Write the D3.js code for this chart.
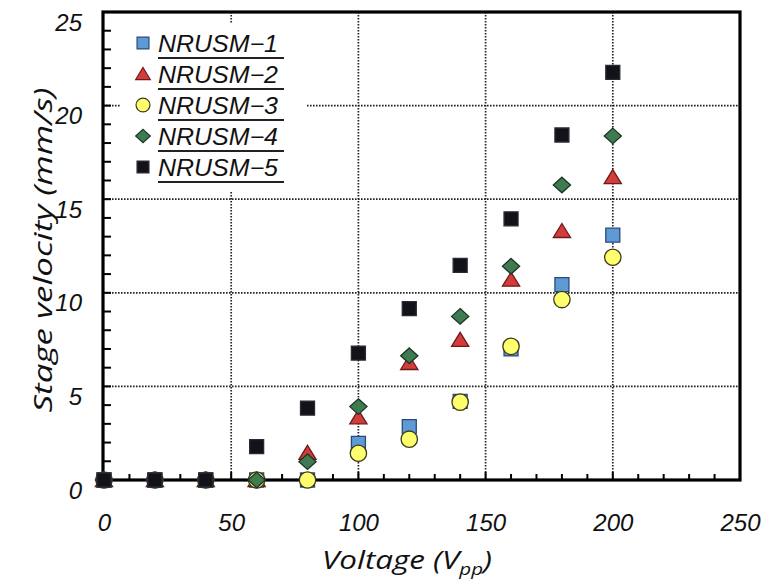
<!DOCTYPE html>
<html><head><meta charset="utf-8">
<script src="https://cdn.jsdelivr.net/npm/d3@7"></script>
<style>
html,body{margin:0;padding:0;background:#fff;}
svg{display:block;}
</style></head>
<body>
<svg id="chart" width="766" height="581"></svg>
<script>
const voltages = [0, 20, 40, 60, 80, 100, 120, 140, 160, 180, 200];
const seriesNames = ["NRUSM\u22121", "NRUSM\u22122", "NRUSM\u22123", "NRUSM\u22124", "NRUSM\u22125"];
const nrusm1 = [0, 0, 0, 0, 0, 1.96, 2.85, 4.2, 7.0, 10.44, 13.08];
const nrusm2 = [0, 0, 0, 0, 1.45, 3.35, 6.25, 7.49, 10.7, 13.3, 16.18];
const nrusm3 = [0, 0, 0, 0, 0, 1.43, 2.18, 4.16, 7.14, 9.64, 11.9];
const nrusm4 = [0, 0, 0, 0, 0.98, 3.92, 6.64, 8.74, 11.42, 15.76, 18.38];
const nrusm5 = [0, 0, 0, 1.78, 3.84, 6.78, 9.15, 11.47, 13.95, 18.43, 21.77];
const xTicks = [0, 50, 100, 150, 200, 250];
const yTicks = [0, 5, 10, 15, 20, 25];

const seriesValues = [nrusm1, nrusm2, nrusm3, nrusm4, nrusm5];
const shapes = ["square", "triangle", "circle", "diamond", "square"];
const fills = ["#5d9ad6", "#d43c3c", "#ffff6e", "#3f7b52", "#111318"];
const strokes = ["#2c4a78", "#6e1a1a", "#3a3a1a", "#1c3524", "#2a2a35"];

const svg = d3.select("#chart");
const L = 103, R = 740, T = 12, B = 480;
const x = d3.scaleLinear().domain([0, 250]).range([L + 1, R]);
const y = d3.scaleLinear().domain([0, 25]).range([B, T]);

const tickFont = "'Liberation Sans', Arial, sans-serif";
const titleFont = "'Open Sans', 'Noto Sans', sans-serif";

// grid lines
const grid = svg.append("g");
grid.selectAll("line.gx").data(xTicks.filter(d => d > 0 && d < 250)).join("line")
  .attr("x1", d => x(d)).attr("x2", d => x(d)).attr("y1", T).attr("y2", B)
  .attr("stroke", "#222").attr("stroke-width", 1.7).attr("stroke-dasharray", "1.6,1.4");
grid.selectAll("line.gy").data(yTicks.filter(d => d > 0 && d < 25)).join("line")
  .attr("x1", L).attr("x2", R).attr("y1", d => y(d)).attr("y2", d => y(d))
  .attr("stroke", "#222").attr("stroke-width", 1.7).attr("stroke-dasharray", "1.6,1.4");

// minor ticks (inward)
const yMinor = d3.range(1, 25);
svg.append("g").selectAll("line").data(yMinor).join("line")
  .attr("x1", L).attr("x2", L + 8).attr("y1", d => y(d)).attr("y2", d => y(d))
  .attr("stroke", "#000").attr("stroke-width", 2);
const xMinor = d3.range(10, 250, 10);
svg.append("g").selectAll("line").data(xMinor).join("line")
  .attr("x1", d => x(d)).attr("x2", d => x(d)).attr("y1", B).attr("y2", d => B - (d % 50 === 0 ? 8 : 6))
  .attr("stroke", "#000").attr("stroke-width", 2);

// frame
svg.append("rect").attr("x", L).attr("y", T).attr("width", R - L).attr("height", B - T)
  .attr("fill", "none").attr("stroke", "#000").attr("stroke-width", 3.2);

// axes labels via d3 axes
const xAxis = d3.axisBottom(x).tickValues(xTicks).tickSize(0).tickPadding(0).tickFormat(d3.format("d"));
const gx = svg.append("g").attr("transform", `translate(0,${B + 42})`).call(xAxis);
gx.select(".domain").remove();
gx.selectAll("text").attr("font-family", tickFont).attr("font-style", "italic")
  .attr("font-size", 24).attr("fill", "#111").attr("dy", "0.36em").attr("y", 0);

const yAxis = d3.axisLeft(y).tickValues(yTicks).tickSize(0).tickPadding(0).tickFormat(d3.format("d"));
const gy = svg.append("g").attr("transform", `translate(${L - 21},0)`).call(yAxis);
gy.select(".domain").remove();
gy.selectAll("text").attr("font-family", tickFont).attr("font-style", "italic")
  .attr("font-size", 24).attr("fill", "#111").attr("dy", "0.36em").attr("x", 0).attr("y", 9.5);

// legend background
const lg = svg.append("g");
lg.append("rect").attr("x", 120).attr("y", 23).attr("width", 186).attr("height", 168).attr("fill", "#fff");

function symbolPath(shape, s) {
  if (shape === "square") { const h = 7 * s; return `M${-h},${-h}H${h}V${h}H${-h}Z`; }
  if (shape === "circle") { const r = 8.2 * s; return `M${r},0A${r},${r} 0 1,1 ${-r},0A${r},${r} 0 1,1 ${r},0Z`; }
  if (shape === "triangle") { const w = 8.6 * s, h = 6.5 * s; return `M0,${-h - 1}L${w},${h}L${-w},${h}Z`; }
  if (shape === "diamond") { const w = 8.6 * s, h = 7.8 * s; return `M0,${-h}L${w},0L0,${h}L${-w},0Z`; }
}

// points
seriesValues.forEach((vals, i) => {
  const data = voltages.map((v, j) => ({v, val: vals[j]}));
  svg.append("g").selectAll("path").data(data).join("path")
    .attr("d", symbolPath(shapes[i], 1))
    .attr("transform", d => `translate(${x(d.v)},${y(d.val)})`)
    .attr("fill", fills[i]).attr("stroke", strokes[i]).attr("stroke-width", 1.3);
});

// legend
const legY = d3.scaleLinear().domain([0, 4]).range([43, 167]);
seriesNames.forEach((name, i) => {
  const yy = legY(i);
  lg.append("path").attr("d", symbolPath(shapes[i], 0.85))
    .attr("transform", `translate(143,${yy})`)
    .attr("fill", fills[i]).attr("stroke", strokes[i]).attr("stroke-width", 1.2);
  lg.append("text").attr("x", 158).attr("y", yy + 8.5)
    .attr("font-family", tickFont).attr("font-style", "italic").attr("font-size", 23)
    .attr("fill", "#111").attr("textLength", 120).attr("lengthAdjust", "spacingAndGlyphs").text(name);
  lg.append("line").attr("x1", 158).attr("x2", 284).attr("y1", yy + 15).attr("y2", yy + 15)
    .attr("stroke", "#222").attr("stroke-width", 1.8);
});

// axis titles
const xg = svg.append("g");
const xt = xg.append("text").attr("x", 0).attr("y", 0)
  .attr("font-family", titleFont).attr("font-style", "italic").attr("font-size", 26).attr("fill", "#111");
xt.append("tspan").text("Voltage (V");
xt.append("tspan").attr("font-size", 17).attr("dy", 6).text("pp");
xt.append("tspan").attr("dy", -6).text(")");
const bb = xt.node().getBBox();
const sx = 170 / bb.width;
xg.attr("transform", `translate(${322 - bb.x * sx},569) scale(${sx},1)`);

svg.append("text").attr("transform", "translate(52,250) rotate(-90)")
  .attr("text-anchor", "middle")
  .attr("font-family", titleFont).attr("font-style", "italic").attr("font-size", 26).attr("fill", "#111")
  .attr("textLength", 325).attr("lengthAdjust", "spacingAndGlyphs")
  .text("Stage velocity (mm/s)");
</script>
</body></html>
